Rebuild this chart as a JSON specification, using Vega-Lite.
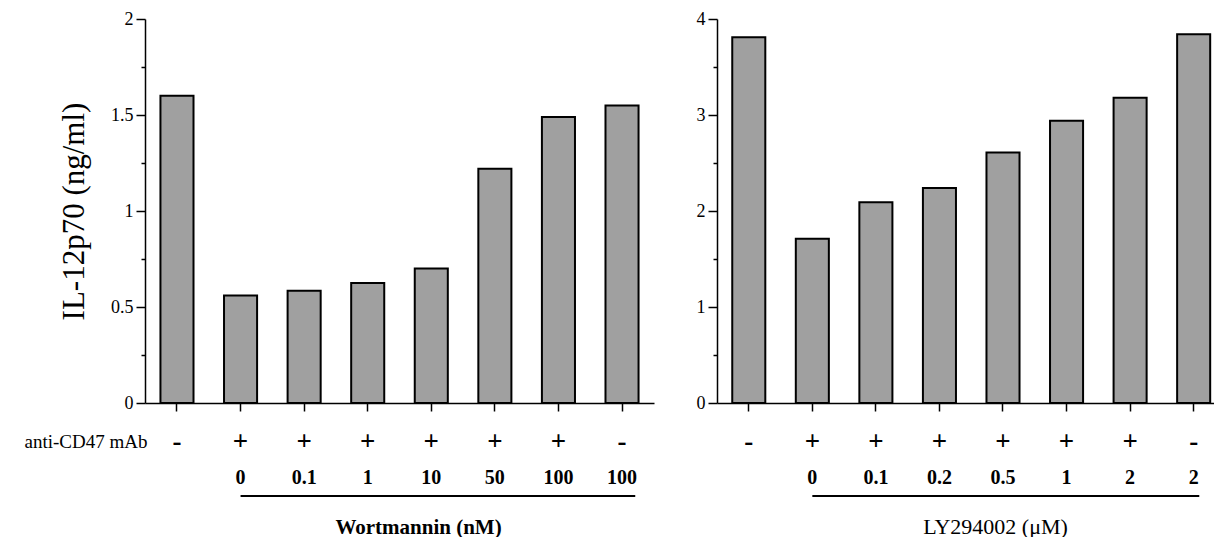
{
  "$schema": "https://vega.github.io/schema/vega-lite/v6.json",
  "background": "white",
  "padding": {"left": 24, "top": 10, "right": 0, "bottom": 0},
  "spacing": 42,
  "config": {
    "font": "Liberation Serif",
    "view": {"stroke": null},
    "axis": {
      "domainColor": "black", "tickColor": "black", "labelColor": "black", "titleColor": "black",
      "grid": false, "domainWidth": 1.5, "tickWidth": 1.5,
      "labelFont": "Liberation Serif", "titleFont": "Liberation Serif", "labelOverlap": false
    }
  },
  "datasets": {
    "wort": [
      {"key": "-|", "dose": "", "value": 1.60},
      {"key": "+|0", "dose": "0", "value": 0.56},
      {"key": "+|0.1", "dose": "0.1", "value": 0.585},
      {"key": "+|1", "dose": "1", "value": 0.625},
      {"key": "+|10", "dose": "10", "value": 0.70},
      {"key": "+|50", "dose": "50", "value": 1.22},
      {"key": "+|100", "dose": "100", "value": 1.49},
      {"key": "-|100", "dose": "100", "value": 1.55}
    ],
    "ly": [
      {"key": "-|", "dose": "", "value": 3.81},
      {"key": "+|0", "dose": "0", "value": 1.71},
      {"key": "+|0.1", "dose": "0.1", "value": 2.09},
      {"key": "+|0.2", "dose": "0.2", "value": 2.24},
      {"key": "+|0.5", "dose": "0.5", "value": 2.61},
      {"key": "+|1", "dose": "1", "value": 2.94},
      {"key": "+|2", "dose": "2", "value": 3.18},
      {"key": "-|2", "dose": "2", "value": 3.84}
    ],
    "wortLine": [{"start": "+|0", "end": "-|100"}],
    "lyLine": [{"start": "+|0", "end": "-|2"}]
  },
  "hconcat": [
    {
      "spacing": 14,
      "vconcat": [
        {
          "width": 509, "height": 384,
          "data": {"name": "wort"},
          "mark": {"type": "bar", "fill": "#a0a0a0", "stroke": "black", "strokeWidth": 2},
          "encoding": {
            "x": {
              "field": "key", "type": "nominal", "sort": null,
              "scale": {"domain": ["-|", "+|0", "+|0.1", "+|1", "+|10", "+|50", "+|100", "-|100"], "paddingInner": 0.48, "paddingOuter": 0.243},
              "axis": {
                "labelExpr": "split(datum.label, '|')[0]", "labelAngle": 0, "labelFontSize": 27, "labelFontWeight": "bold",
                "tickSize": 8, "labelPadding": 17,
                "title": "anti-CD47 mAb", "titleX": 2, "titleY": 38, "titleAlign": "right", "titleBaseline": "middle",
                "titleFontSize": 19, "titleFontWeight": "normal"
              }
            },
            "y": {
              "field": "value", "type": "quantitative",
              "scale": {"domain": [0, 2]},
              "axis": {
                "values": [0, 0.25, 0.5, 0.75, 1, 1.25, 1.5, 1.75, 2],
                "format": "~g",
                "labelExpr": "datum.value % 0.5 == 0 ? datum.label : ''",
                "tickSize": {"condition": {"test": "datum.value % 0.5 != 0", "value": 4}, "value": 9},
                "labelFontSize": 18, "labelPadding": 3,
                "title": "IL-12p70 (ng/ml)", "titleFontSize": 31, "titleFontWeight": "normal", "titlePadding": 20
              }
            }
          }
        },
        {
          "width": 509, "height": 36,
          "layer": [
            {
              "data": {"name": "wort"},
              "mark": {"type": "text", "fontSize": 20, "fontWeight": "bold", "baseline": "middle", "dy": -18, "color": "black"},
              "encoding": {
                "x": {
                  "field": "key", "type": "nominal", "sort": null,
                  "scale": {"domain": ["-|", "+|0", "+|0.1", "+|1", "+|10", "+|50", "+|100", "-|100"], "paddingInner": 0.48, "paddingOuter": 0.243},
                  "axis": {"title": "Wortmannin (nM)", "labels": false, "ticks": false, "domain": false, "titleX": 273, "titleFontSize": 21, "titleFontWeight": "bold", "titlePadding": 2}
                },
                "text": {"field": "dose"}
              }
            },
            {
              "data": {"name": "wortLine"},
              "mark": {"type": "rule", "color": "black", "strokeWidth": 2},
              "encoding": {
                "x": {"field": "start", "type": "nominal"},
                "x2": {"field": "end", "bandPosition": 0.9}
              }
            }
          ]
        }
      ]
    },
    {
      "spacing": 14,
      "vconcat": [
        {
          "width": 497, "height": 384,
          "data": {"name": "ly"},
          "mark": {"type": "bar", "fill": "#a0a0a0", "stroke": "black", "strokeWidth": 2},
          "encoding": {
            "x": {
              "field": "key", "type": "nominal", "sort": null,
              "scale": {"domain": ["-|", "+|0", "+|0.1", "+|0.2", "+|0.5", "+|1", "+|2", "-|2"], "paddingInner": 0.48, "paddingOuter": 0.15, "align": 0.8},
              "axis": {
                "labelExpr": "split(datum.label, '|')[0]", "labelAngle": 0, "labelFontSize": 27, "labelFontWeight": "bold",
                "tickSize": 8, "labelPadding": 17, "title": null
              }
            },
            "y": {
              "field": "value", "type": "quantitative",
              "scale": {"domain": [0, 4]},
              "axis": {
                "values": [0, 0.5, 1, 1.5, 2, 2.5, 3, 3.5, 4],
                "format": "~g",
                "labelExpr": "datum.value % 1 == 0 ? datum.label : ''",
                "tickSize": {"condition": {"test": "datum.value % 1 != 0", "value": 4}, "value": 9},
                "labelFontSize": 18, "labelPadding": 3, "title": null
              }
            }
          }
        },
        {
          "width": 497, "height": 36,
          "layer": [
            {
              "data": {"name": "ly"},
              "mark": {"type": "text", "fontSize": 20, "fontWeight": "bold", "baseline": "middle", "dy": -18, "color": "black"},
              "encoding": {
                "x": {
                  "field": "key", "type": "nominal", "sort": null,
                  "scale": {"domain": ["-|", "+|0", "+|0.1", "+|0.2", "+|0.5", "+|1", "+|2", "-|2"], "paddingInner": 0.48, "paddingOuter": 0.15, "align": 0.8},
                  "axis": {"title": "LY294002 (μM)", "labels": false, "ticks": false, "domain": false, "titleX": 278, "titleFontSize": 22, "titleFontWeight": "normal", "titlePadding": 2}
                },
                "text": {"field": "dose"}
              }
            },
            {
              "data": {"name": "lyLine"},
              "mark": {"type": "rule", "color": "black", "strokeWidth": 2},
              "encoding": {
                "x": {"field": "start", "type": "nominal"},
                "x2": {"field": "end", "bandPosition": 0.67}
              }
            }
          ]
        }
      ]
    }
  ]
}
